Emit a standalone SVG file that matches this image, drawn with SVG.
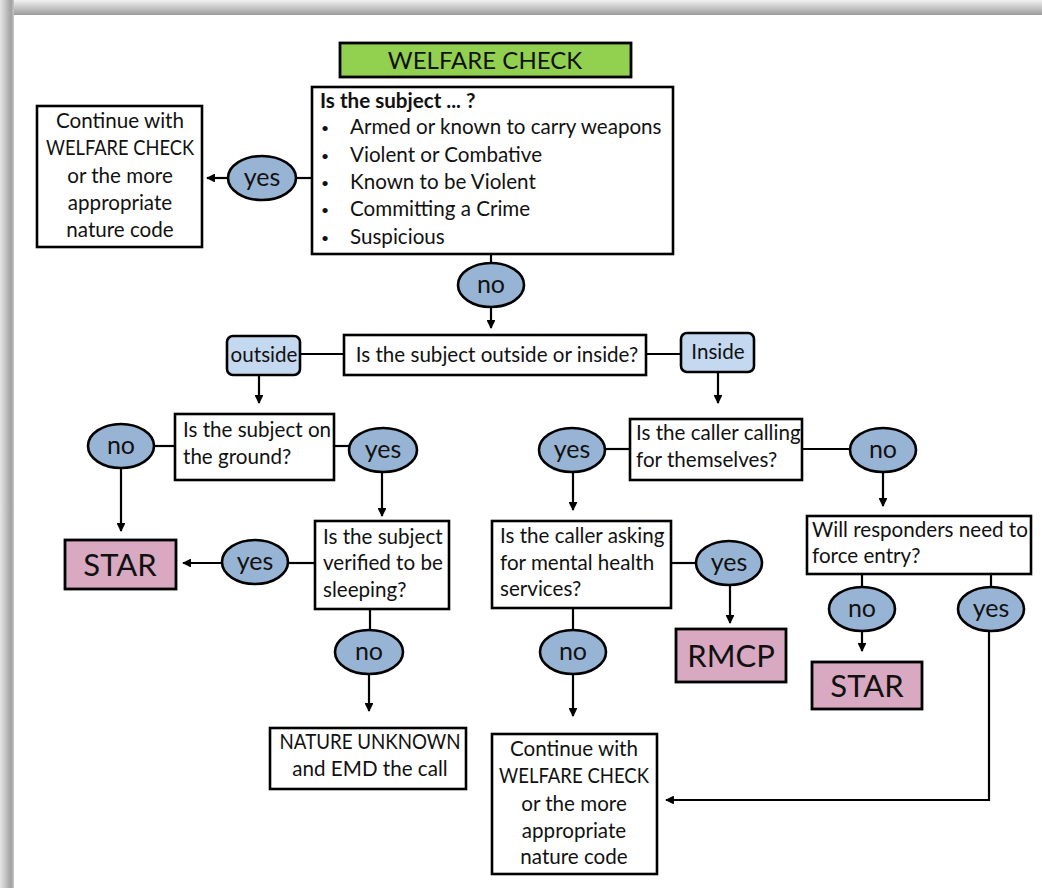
<svg xmlns="http://www.w3.org/2000/svg" width="1042" height="888" viewBox="0 0 1042 888">
<defs>
<linearGradient id="gTop" x1="0" y1="0" x2="0" y2="1"><stop offset="0" stop-color="#f2f2f2"/><stop offset="1" stop-color="#9c9c9c"/></linearGradient>
<linearGradient id="gLeft" x1="0" y1="0" x2="1" y2="0"><stop offset="0" stop-color="#e6e6e6"/><stop offset="0.8" stop-color="#a0a0a0"/><stop offset="1" stop-color="#c8c8c8"/></linearGradient>
<marker id="ah" viewBox="0 0 10 10" refX="9" refY="5" markerWidth="4" markerHeight="4" orient="auto" markerUnits="strokeWidth"><path d="M0,0 L10,5 L0,10 z" fill="#000"/></marker>
<style>
.box{fill:#fff;stroke:#000;stroke-width:2.6}
.pink{fill:#d8a9c1;stroke:#000;stroke-width:2.8}
.rnd{fill:#c4d8ef;stroke:#000;stroke-width:2.6}
.ell{fill:#98b4d4;stroke:#000;stroke-width:2.6}
.t{font-family:Lato,"Liberation Sans",sans-serif;font-size:20.6px;fill:#111}
.b{font-family:Lato,"Liberation Sans",sans-serif;font-size:14px;fill:#111}
.c{text-anchor:middle}
.ttl{font-family:Lato,"Liberation Sans",sans-serif;font-size:24px;fill:#111;text-anchor:middle}
.el{font-family:Lato,"Liberation Sans",sans-serif;font-size:25px;fill:#111;text-anchor:middle}
.big{font-family:Lato,"Liberation Sans",sans-serif;font-size:31px;fill:#111;text-anchor:middle}
.ln{fill:none;stroke:#000;stroke-width:2.2}
.ar{fill:none;stroke:#000;stroke-width:2.2;marker-end:url(#ah)}
</style>
</defs>
<rect width="1042" height="888" fill="#fff"/>
<rect x="0" y="0" width="1042" height="15" fill="url(#gTop)"/>
<rect x="0" y="0" width="14" height="888" fill="url(#gLeft)"/>

<g id="connectors">
<line class="ln" x1="296" y1="178" x2="312" y2="178"/>
<line class="ar" x1="228" y1="178" x2="207" y2="178"/>
<line class="ln" x1="491" y1="254" x2="491" y2="263"/>
<line class="ar" x1="491" y1="307" x2="491" y2="328"/>
<line class="ln" x1="300" y1="354" x2="344" y2="354"/>
<line class="ln" x1="646" y1="354" x2="681" y2="354"/>
<line class="ar" x1="259" y1="375" x2="259" y2="403"/>
<line class="ar" x1="718" y1="372" x2="718" y2="403"/>
<line class="ln" x1="154" y1="446" x2="175" y2="446"/>
<line class="ar" x1="121" y1="468" x2="121" y2="531"/>
<line class="ln" x1="334" y1="446" x2="350" y2="446"/>
<line class="ar" x1="382" y1="472" x2="382" y2="516"/>
<line class="ar" x1="222" y1="563" x2="183" y2="563"/>
<line class="ln" x1="288" y1="563" x2="315" y2="563"/>
<line class="ln" x1="370" y1="609" x2="370" y2="630"/>
<line class="ar" x1="369" y1="674" x2="369" y2="711"/>
<line class="ln" x1="605" y1="449" x2="630" y2="449"/>
<line class="ar" x1="573" y1="472" x2="573" y2="510"/>
<line class="ln" x1="802" y1="449" x2="850" y2="449"/>
<line class="ar" x1="883" y1="472" x2="883" y2="506"/>
<line class="ln" x1="671" y1="563" x2="696" y2="563"/>
<line class="ar" x1="730" y1="585" x2="730" y2="623"/>
<line class="ln" x1="573" y1="608" x2="573" y2="630"/>
<line class="ar" x1="573" y1="674" x2="573" y2="716"/>
<line class="ln" x1="862" y1="574" x2="862" y2="587"/>
<line class="ar" x1="862" y1="631" x2="862" y2="651"/>
<line class="ln" x1="991" y1="574" x2="991" y2="587"/>
<polyline class="ar" points="989,631 989,800 666,800"/>
</g>

<g id="title"><rect x="340" y="43" width="291" height="34" fill="#92d050" stroke="#000" stroke-width="2.8"/><text class="ttl" x="485" y="69">WELFARE CHECK</text></g>

<g id="q-main"><rect class="box" x="312" y="87" width="361" height="167"/>
<text class="t" x="320" y="108" font-weight="bold">Is the subject ... ?</text>
<text class="b" x="321" y="133">•</text><text class="t" x="350" y="134">Armed or known to carry weapons</text>
<text class="b" x="321" y="161">•</text><text class="t" x="350" y="162">Violent or Combative</text>
<text class="b" x="321" y="188">•</text><text class="t" x="350" y="189">Known to be Violent</text>
<text class="b" x="321" y="215">•</text><text class="t" x="350" y="216">Committing a Crime</text>
<text class="b" x="321" y="243">•</text><text class="t" x="350" y="244">Suspicious</text>
</g>

<g id="continue-1"><rect class="box" x="37" y="106" width="165" height="141"/>
<text class="t c" x="120" y="128">Continue with</text>
<text class="t c" x="120" y="155" textLength="148" lengthAdjust="spacingAndGlyphs">WELFARE CHECK</text>
<text class="t c" x="120" y="183">or the more</text>
<text class="t c" x="120" y="210">appropriate</text>
<text class="t c" x="120" y="237">nature code</text>
</g>

<g id="yes-1"><ellipse class="ell" cx="262" cy="178" rx="34" ry="22"/><text class="el" x="262" y="186">yes</text></g>
<g id="no-1"><ellipse class="ell" cx="491" cy="285" rx="33" ry="22"/><text class="el" x="491" y="293">no</text></g>

<g id="q-outside-inside"><rect class="box" x="344" y="335" width="302" height="40"/><text class="t c" x="497" y="362">Is the subject outside or inside?</text></g>
<g id="outside"><rect class="rnd" x="227" y="336" width="73" height="39" rx="6"/><text class="t c" x="264" y="362">outside</text></g>
<g id="inside"><rect class="rnd" x="681" y="333" width="73" height="39" rx="6"/><text class="t c" x="718" y="359">Inside</text></g>

<g id="q-ground"><rect class="box" x="175" y="414" width="159" height="66"/>
<text class="t" x="183" y="437">Is the subject on</text><text class="t" x="183" y="464">the ground?</text></g>
<g id="no-ground"><ellipse class="ell" cx="121" cy="446" rx="33" ry="22"/><text class="el" x="121" y="454">no</text></g>
<g id="yes-ground"><ellipse class="ell" cx="383" cy="450" rx="34" ry="22"/><text class="el" x="383" y="458">yes</text></g>

<g id="star-1"><rect class="pink" x="65" y="540" width="111" height="49"/><text class="big" x="120" y="576">STAR</text></g>
<g id="yes-sleep"><ellipse class="ell" cx="255" cy="562" rx="33" ry="22"/><text class="el" x="255" y="570">yes</text></g>
<g id="q-sleep"><rect class="box" x="315" y="521" width="134" height="88"/>
<text class="t" x="323" y="544">Is the subject</text><text class="t" x="323" y="570">verified to be</text><text class="t" x="323" y="597">sleeping?</text></g>
<g id="no-sleep"><ellipse class="ell" cx="369" cy="652" rx="34" ry="22"/><text class="el" x="369" y="660">no</text></g>
<g id="nature-unknown"><rect class="box" x="270" y="728" width="196" height="61"/>
<text class="t c" x="370" y="749" textLength="181" lengthAdjust="spacingAndGlyphs">NATURE UNKNOWN</text><text class="t c" x="370" y="776">and EMD the call</text></g>

<g id="q-caller"><rect class="box" x="630" y="419" width="172" height="61"/>
<text class="t" x="636" y="440">Is the caller calling</text><text class="t" x="636" y="467">for themselves?</text></g>
<g id="yes-caller"><ellipse class="ell" cx="572" cy="450" rx="33" ry="22"/><text class="el" x="572" y="458">yes</text></g>
<g id="no-caller"><ellipse class="ell" cx="883" cy="450" rx="33" ry="22"/><text class="el" x="883" y="458">no</text></g>

<g id="q-mental"><rect class="box" x="492" y="521" width="179" height="87"/>
<text class="t" x="500" y="543">Is the caller asking</text><text class="t" x="500" y="570">for mental health</text><text class="t" x="500" y="596">services?</text></g>
<g id="yes-mental"><ellipse class="ell" cx="729" cy="563" rx="33" ry="22"/><text class="el" x="729" y="571">yes</text></g>
<g id="rmcp"><rect class="pink" x="676" y="629" width="110" height="53"/><text class="big" x="731" y="667">RMCP</text></g>
<g id="no-mental"><ellipse class="ell" cx="573" cy="652" rx="33" ry="22"/><text class="el" x="573" y="660">no</text></g>

<g id="q-force"><rect class="box" x="807" y="516" width="224" height="58"/>
<text class="t" x="812" y="537">Will responders need to</text><text class="t" x="812" y="563">force entry?</text></g>
<g id="no-force"><ellipse class="ell" cx="862" cy="609" rx="33" ry="22"/><text class="el" x="862" y="617">no</text></g>
<g id="yes-force"><ellipse class="ell" cx="991" cy="609" rx="33" ry="22"/><text class="el" x="991" y="617">yes</text></g>
<g id="star-2"><rect class="pink" x="812" y="662" width="110" height="47"/><text class="big" x="867" y="697">STAR</text></g>

<g id="continue-2"><rect class="box" x="492" y="734" width="165" height="140"/>
<text class="t c" x="574" y="756">Continue with</text>
<text class="t c" x="574" y="783" textLength="150" lengthAdjust="spacingAndGlyphs">WELFARE CHECK</text>
<text class="t c" x="574" y="811">or the more</text>
<text class="t c" x="574" y="838">appropriate</text>
<text class="t c" x="574" y="864">nature code</text>
</g>
</svg>
